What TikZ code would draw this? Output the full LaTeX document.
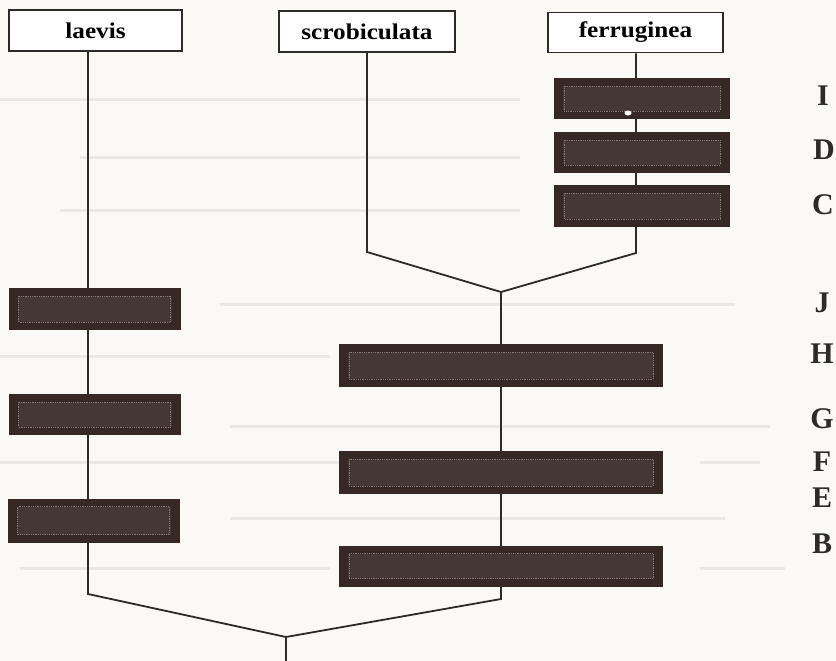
\documentclass[tikz,border=0pt]{standalone}
\usepackage{fontspec}
\setmainfont{Liberation Serif}
\newfontfamily\boxfont{Liberation Serif}[FakeStretch=1.12]
\definecolor{paper}{RGB}{251,249,246}
\definecolor{ink}{RGB}{45,42,42}
\definecolor{boxdark}{RGB}{54,40,37}
\definecolor{boxmid}{RGB}{68,56,53}
\definecolor{speck}{RGB}{128,118,114}
\definecolor{faintline}{RGB}{235,233,231}
\tikzset{
  topbox/.style={draw=ink, line width=1.6pt, fill=white, inner sep=0pt,
    font=\boxfont\bfseries\fontsize{22.5}{26}\selectfont},
  darkbox/.style={fill=boxdark, inner sep=0pt,
    path picture={
      \fill[boxmid] ([xshift=9pt,yshift=-8pt]path picture bounding box.north west)
        rectangle ([xshift=-9pt,yshift=8pt]path picture bounding box.south east);
      \draw[speck, densely dotted, line width=0.8pt]
        ([xshift=10pt,yshift=-8pt]path picture bounding box.north west)
        rectangle ([xshift=-10pt,yshift=8pt]path picture bounding box.south east);
    }},
  narrow/.style={darkbox, minimum width=172pt, minimum height=41pt},
  wide/.style={darkbox, minimum width=324pt, minimum height=42pt},
  letter/.style={font=\bfseries\fontsize{30}{32}\selectfont, text=ink, inner sep=0pt},
  tree/.style={draw=ink, line width=1.8pt, line join=miter},
  faint/.style={draw=faintline, line width=3pt}
}
\begin{document}
\begin{tikzpicture}[x=1pt,y=-1pt]
\useasboundingbox[fill=paper] (0,0) rectangle (836,661);

% faint background lines
\foreach \ya/\xa/\xb in {100/0/520, 157/80/520, 210/60/520, 304/220/735,
  356/0/330, 426/230/770, 462/0/345, 462/700/760, 518/230/725, 568/20/330, 568/700/785}
  \draw[faint] (\xa,\ya) -- (\xb,\ya);

% top boxes
\node[topbox, minimum width=173pt, minimum height=41pt] (tl) at (95.5,30.5) {laevis};
\node[topbox, minimum width=176pt, minimum height=41pt] (ts) at (367,31.5) {scrobiculata};
\node[topbox, minimum width=175pt, minimum height=40pt] (tf) at (635.5,32.5) {ferruginea};

% tree coordinates
\coordinate (cS) at (367,252);
\coordinate (cF) at (636,253);
\coordinate (j1) at (501,292);
\coordinate (cL) at (88,594);
\coordinate (cR) at (501,599);
\coordinate (j0) at (286,637);
\coordinate (root) at (286,661);

% tree lines
\draw[tree] (tl.south -| cL) -- (cL) -- (j0) -- (root);
\draw[tree] (ts.south) -- (cS) -- (j1) -- (cR) -- (j0);
\draw[tree] (tf.south -| cF) -- (cF) -- (j1);

% dark boxes
\node[darkbox, minimum width=176pt, minimum height=41pt] (bI) at (642,98.5) {};
\node[darkbox, minimum width=176pt, minimum height=41pt] (bD) at (642,152.5) {};
\node[darkbox, minimum width=176pt, minimum height=42pt] (bC) at (642,206) {};
\node[narrow, minimum height=42pt] (bJ) at (94.5,309) {};
\node[wide, minimum height=43pt] (bH) at (501,365.5) {};
\node[narrow] (bG) at (94.5,414.5) {};
\node[wide, minimum height=43pt] (bF) at (501,472.5) {};
\node[narrow, minimum height=44pt] (bE) at (93.5,520.5) {};
\node[wide, minimum height=41pt] (bB) at (501,566) {};
\fill[white] (628,113) ellipse (3.5pt and 2.5pt);

% letters
\node[letter] (lI) at (823,95.5) {I};
\node[letter] (lD) at (824,149.5) {D};
\node[letter] (lC) at (823,204.5) {C};
\node[letter] (lJ) at (822,303) {J};
\node[letter] (lH) at (822,354) {H};
\node[letter] (lG) at (822,419) {G};
\node[letter] (lF) at (822,462) {F};
\node[letter] (lE) at (822,498) {E};
\node[letter] (lB) at (822,544) {B};
\end{tikzpicture}
\end{document}
